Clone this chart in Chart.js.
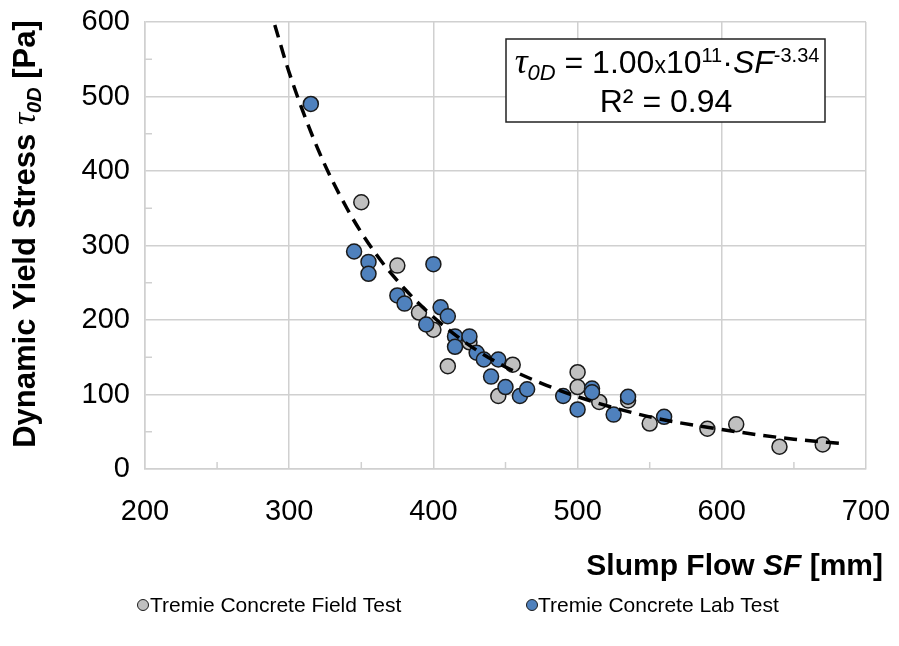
<!DOCTYPE html>
<html>
<head>
<meta charset="utf-8">
<script src="https://cdn.jsdelivr.net/npm/chart.js@4"></script>
<style>
  html, body { margin: 0; padding: 0; background: #fff; }
  #wrap { width: 899px; height: 646px; }
</style>
</head>
<body>
<div id="wrap"><canvas id="chart" width="899" height="646"></canvas></div>
<script>
// slump flow SF [mm] vs dynamic yield stress [Pa]
const fieldSF = [350, 375, 390, 400, 410, 425, 445, 455, 500, 500, 515, 535, 550, 590, 610, 640, 670];
const fieldTau = [358, 273, 210, 187, 138, 170, 98, 140, 130, 110, 90, 92, 61, 54, 60, 30, 33];

const labSF = [315, 345, 355, 355, 375, 380, 395, 400, 405, 410, 415, 415, 425, 430, 435, 440, 445, 450, 460, 465, 490, 500, 510, 510, 525, 535, 560];
const labTau = [490, 292, 278, 262, 233, 222, 194, 275, 217, 205, 178, 164, 178, 156, 147, 124, 147, 110, 98, 107, 98, 80, 108, 103, 73, 97, 70];

// power trendline as it appears on the chart
const trendSF = [290, 300, 320, 340, 360, 380, 400, 425, 450, 475, 500, 550, 600, 650, 685];
const trendTau = [596, 532, 429, 350, 289, 242, 204, 166, 137, 115, 97, 70, 53, 40, 34];

const xTicks = [200, 300, 400, 500, 600, 700];
const yTicks = [0, 100, 200, 300, 400, 500, 600];
const seriesNames = ['Tremie Concrete Field Test', 'Tremie Concrete Lab Test'];

const FONT = '"Liberation Sans", Arial, sans-serif';
const SERIF = '"Liberation Serif", "DejaVu Serif", serif';
const GRID = '#d0d0d0';

const toPts = (xs, ys) => xs.map((x, i) => ({ x: x, y: ys[i] }));

// draw a row of text pieces with different fonts
function drawRuns(ctx, runs, x, y, align) {
    let total = 0;
    runs.forEach(r => { ctx.font = r.font; total += ctx.measureText(r.text).width; });
    let cx = align === 'center' ? x - total / 2 : (align === 'right' ? x - total : x);
    ctx.textAlign = 'left';
    runs.forEach(r => {
        ctx.font = r.font;
        ctx.fillText(r.text, cx, y + (r.dy || 0));
        cx += ctx.measureText(r.text).width;
    });
}

const extras = {
    id: 'extras',
    afterDraw(chart) {
        const ctx = chart.ctx;
        const xs = chart.scales.x, ys = chart.scales.y;
        const area = chart.chartArea;
        ctx.save();

        // minor ticks
        ctx.strokeStyle = GRID;
        ctx.lineWidth = 1.5;
        for (let v = 250; v < 700; v += 100) {
            const px = xs.getPixelForValue(v);
            ctx.beginPath(); ctx.moveTo(px, area.bottom); ctx.lineTo(px, area.bottom - 7); ctx.stroke();
        }
        for (let v = 50; v < 600; v += 100) {
            const py = ys.getPixelForValue(v);
            ctx.beginPath(); ctx.moveTo(area.left, py); ctx.lineTo(area.left + 7, py); ctx.stroke();
        }

        ctx.fillStyle = '#000';
        ctx.textBaseline = 'alphabetic';

        // x title
        drawRuns(ctx, [
            { text: 'Slump Flow ', font: 'bold 30px ' + FONT },
            { text: 'SF', font: 'italic bold 30px ' + FONT },
            { text: ' [mm]', font: 'bold 30px ' + FONT }
        ], 883, 575, 'right');

        // y title
        ctx.save();
        ctx.translate(35, 234);
        ctx.rotate(-Math.PI / 2);
        drawRuns(ctx, [
            { text: 'Dynamic Yield Stress ', font: 'bold 31px ' + FONT },
            { text: 'τ', font: 'italic 34px ' + SERIF },
            { text: '0D', font: 'italic bold 20px ' + FONT, dy: 6 },
            { text: ' [Pa]', font: 'bold 31px ' + FONT }
        ], 0, 0, 'center');
        ctx.restore();

        // equation box
        ctx.fillStyle = '#fff';
        ctx.fillRect(506, 39, 319, 83);
        ctx.strokeStyle = '#222';
        ctx.lineWidth = 1.5;
        ctx.strokeRect(506, 39, 319, 83);
        ctx.fillStyle = '#000';
        drawRuns(ctx, [
            { text: 'τ', font: 'italic 36px ' + SERIF },
            { text: '0D', font: 'italic 22px ' + FONT, dy: 7 },
            { text: ' = 1.00', font: '32px ' + FONT },
            { text: 'x', font: '23px ' + FONT },
            { text: '10', font: '32px ' + FONT },
            { text: '11', font: '20px ' + FONT, dy: -11 },
            { text: '·', font: '32px ' + FONT },
            { text: 'SF', font: 'italic 32px ' + FONT },
            { text: '-3.34', font: '20px ' + FONT, dy: -11 }
        ], 667, 73, 'center');
        drawRuns(ctx, [{ text: 'R² = 0.94', font: '32px ' + FONT }], 666, 112, 'center');

        // legend
        const ds = chart.data.datasets;
        const legendItems = [
            { d: ds[2], mx: 143, tx: 150 },
            { d: ds[1], mx: 532, tx: 538 }
        ];
        ctx.textBaseline = 'middle';
        legendItems.forEach(it => {
            ctx.beginPath();
            ctx.arc(it.mx, 605, 5.5, 0, Math.PI * 2);
            ctx.fillStyle = it.d.backgroundColor;
            ctx.fill();
            ctx.strokeStyle = it.d.borderColor;
            ctx.lineWidth = 1;
            ctx.stroke();
            ctx.fillStyle = '#000';
            drawRuns(ctx, [{ text: it.d.label, font: '21px ' + FONT }], it.tx, 606, 'left');
        });

        ctx.restore();
    }
};

new Chart(document.getElementById('chart').getContext('2d'), {
    type: 'scatter',
    data: {
        datasets: [
            {
                label: 'Trend',
                type: 'line',
                data: toPts(trendSF, trendTau),
                borderColor: '#000',
                borderWidth: 3.5,
                borderDash: [13, 8],
                pointRadius: 0,
                fill: false,
                cubicInterpolationMode: 'monotone'
            },
            {
                label: seriesNames[1],
                data: toPts(labSF, labTau),
                backgroundColor: '#4f81bd',
                borderColor: '#1a1a1a',
                borderWidth: 1.5,
                pointRadius: 7.5,
                pointHoverRadius: 7.5
            },
            {
                label: seriesNames[0],
                data: toPts(fieldSF, fieldTau),
                backgroundColor: '#c0c0c0',
                borderColor: '#1a1a1a',
                borderWidth: 1.5,
                pointRadius: 7.5,
                pointHoverRadius: 7.5
            }
        ]
    },
    options: {
        responsive: false,
        animation: false,
        layout: { padding: { top: 22, right: 33, left: 0, bottom: 0 } },
        plugins: {
            legend: { display: false },
            tooltip: { enabled: false }
        },
        scales: {
            x: {
                type: 'linear',
                min: 200,
                max: 700,
                afterBuildTicks: s => { s.ticks = xTicks.map(v => ({ value: v })); },
                afterFit: s => {
                    s.height = 646 - 469;
                    s.paddingLeft = 0;
                    s.paddingRight = 0;
                },
                grid: { color: GRID, lineWidth: 1.5, drawTicks: false },
                border: { color: GRID, width: 1.5 },
                ticks: {
                    font: { family: FONT, size: 29 },
                    color: '#000',
                    padding: 26,
                    maxRotation: 0,
                    autoSkip: false
                }
            },
            y: {
                min: 0,
                max: 600,
                afterBuildTicks: s => { s.ticks = yTicks.map(v => ({ value: v })); },
                afterFit: s => {
                    s.width = 145;
                    s.paddingTop = 0;
                    s.paddingBottom = 0;
                },
                grid: { color: GRID, lineWidth: 1.5, drawTicks: false },
                border: { color: GRID, width: 1.5 },
                ticks: {
                    font: { family: FONT, size: 29 },
                    color: '#000',
                    padding: 15,
                    autoSkip: false
                }
            }
        }
    },
    plugins: [extras]
});
</script>
</body>
</html>
